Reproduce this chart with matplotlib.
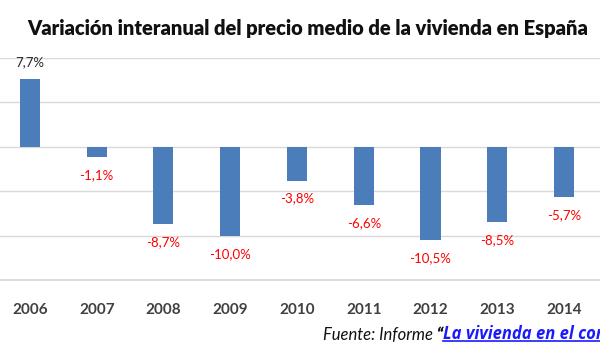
import numpy as np
import matplotlib
matplotlib.use("Agg")
import matplotlib.pyplot as plt
from matplotlib.lines import Line2D

# datos
anios = ["2006", "2007", "2008", "2009", "2010", "2011", "2012", "2013", "2014"]
variacion = [7.7, -1.1, -8.7, -10.0, -3.8, -6.6, -10.5, -8.5, -5.7]
etiquetas = ["7,7%", "-1,1%", "-8,7%", "-10,0%", "-3,8%", "-6,6%", "-10,5%", "-8,5%", "-5,7%"]

titulo = "Variación interanual del precio medio de la vivienda en España"
fuente = "Fuente: Informe "
enlace = "La vivienda en el contexto"

plt.rcParams["font.family"] = ["Lato", "DejaVu Sans"]

fig = plt.figure(figsize=(6, 3.5), dpi=100)
ax = fig.add_axes([0, 0.2, 1, 0.634])

x = np.arange(len(anios))
ax.bar(x, variacion, width=0.3, color="#4a7dba", zorder=3)

ax.set_ylim(-15, 10)
ax.set_xlim(-0.449, 8.539)
ax.set_yticks([-15, -10, -5, 0, 5, 10])
ax.yaxis.grid(True, color="#d9d9d9", linewidth=1.0, zorder=0)
ax.tick_params(axis="y", left=False, labelleft=False)
ax.tick_params(axis="x", bottom=False, pad=13)
ax.set_xticks(x)
ax.set_xticklabels(anios, fontsize=11, fontweight="bold", color="#404040")
for s in ["top", "right", "left"]:
    ax.spines[s].set_visible(False)
ax.spines["bottom"].set_color("#d9d9d9")
ax.spines["bottom"].set_linewidth(1.3)

# etiquetas de datos
for xi, v, lab in zip(x, variacion, etiquetas):
    if v >= 0:
        ax.annotate(lab, (xi, v), xytext=(0, 12), textcoords="offset points",
                    ha="center", va="center", fontsize=9.5, color="#262626")
    else:
        ax.annotate(lab, (xi, v), xytext=(0, -13), textcoords="offset points",
                    ha="center", va="center", fontsize=9.5, color="#ff0000")

fig.text(0.513, 0.92, titulo, ha="center", va="center", fontsize=14.5,
         fontweight="heavy", color="#111111")

# nota de fuente con enlace (cortada por el borde, como en el original)
t1 = fig.text(323 / 600, 1 - 335 / 350, fuente, ha="left", va="center",
              fontsize=12, style="italic", color="#111111")
t2 = ax.annotate("\u201c", xy=(1, 0), xycoords=t1, va="bottom", ha="left",
                 fontsize=12, style="italic", fontweight="heavy", color="#111111")
t3 = ax.annotate(enlace, xy=(1, 0), xycoords=t2, va="bottom", ha="left",
                 fontsize=12, style="italic", fontweight="bold", color="#1a1aff",
                 family=["Open Sans", "DejaVu Sans"])

fig.canvas.draw()
bb = t3.get_window_extent()
y_line = (bb.y0 + 2.5) / fig.bbox.height
fig.add_artist(Line2D([bb.x0 / fig.bbox.width, bb.x1 / fig.bbox.width], [y_line, y_line],
                      color="#1a1aff", linewidth=1.2))

fig.savefig("out.png", dpi=100)
